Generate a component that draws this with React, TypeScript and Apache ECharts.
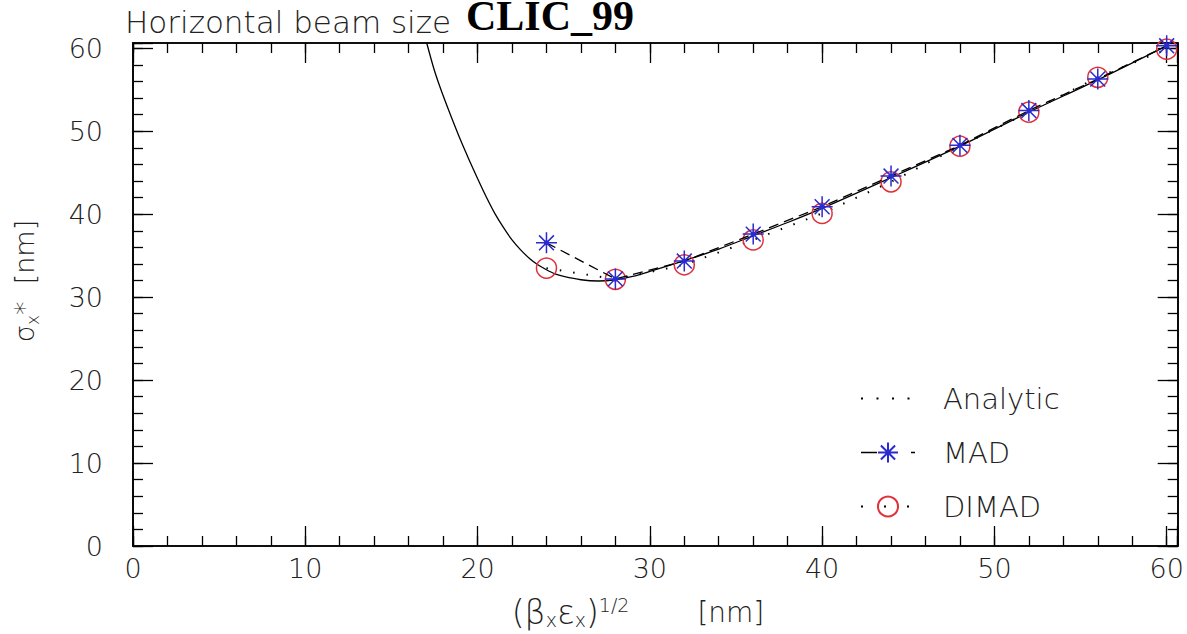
import React, { useEffect, useRef } from "react";
import * as echarts from "echarts";

// ---- data ----
const analyticX = [17.05, 17.5, 18.0, 18.5, 19.0, 19.5, 20.0, 20.5, 21.0, 21.5, 22.0, 22.5, 23.0, 23.5, 24.0, 24.5, 25.0, 26.0, 27.0, 28.0, 29.0, 30.0, 32.0, 34.0, 36.0, 38.0, 40.0, 44.0, 48.0, 52.0, 56.0, 60.0];
const analyticY = [60.64, 57.3, 54.3, 51.6, 49.0, 46.6, 44.3, 42.1, 40.1, 38.4, 36.9, 35.7, 34.7, 33.9, 33.3, 32.8, 32.5, 32.1, 31.95, 32.1, 32.5, 33.1, 34.4, 35.8, 37.4, 39.0, 40.7, 44.4, 48.2, 52.3, 56.2, 60.3];
const madX = [24, 28, 32, 36, 40, 44, 48, 52, 56, 60];
const madY = [36.55, 32.2, 34.35, 37.6, 40.9, 44.6, 48.3, 52.5, 56.3, 60.3];
const dimadX = [24, 28, 32, 36, 40, 44, 48, 52, 56, 60];
const dimadY = [33.5, 32.15, 33.9, 36.9, 40.1, 43.9, 48.2, 52.3, 56.5, 59.9];
const xTickLabels = [0, 10, 20, 30, 40, 50, 60];
const yTickLabels = [0, 10, 20, 30, 40, 50, 60];
const seriesNames = ["Analytic", "MAD", "DIMAD"];

const AXIS_MAX = 60.64;
const FONT = "DejaVu Sans";
const STAR =
  "path://M0,-10L0,10M-10,0L10,0M-7.07,-7.07L7.07,7.07M-7.07,7.07L7.07,-7.07M-1.8,0A1.8,1.8,0,1,0,1.8,0A1.8,1.8,0,1,0,-1.8,0Z";

function pairs(xs: number[], ys: number[]) {
  return xs.map((x, i) => [x, ys[i]]);
}

function mkAxis(
  kind: "x" | "y",
  position: string,
  interval: number,
  len: number,
  labels: boolean,
  ticks: number[]
) {
  return {
    type: "value",
    position,
    min: 0,
    max: AXIS_MAX,
    interval,
    axisLine: { show: true, onZero: false, lineStyle: { color: "#000", width: 1.6 } },
    axisTick: { show: true, inside: true, length: len, lineStyle: { color: "#000", width: 1.3 } },
    axisLabel: labels
      ? {
          show: true,
          margin: kind === "x" ? 9 : 30,
          color: "#222",
          fontFamily: FONT,
          fontWeight: 200,
          fontSize: 27,
          formatter: (v: number) => (ticks.includes(v) ? String(v) : ""),
        }
      : { show: false },
    splitLine: { show: false },
  };
}

export default function App() {
  const ref = useRef<HTMLDivElement>(null);
  useEffect(() => {
    if (!ref.current) return;
    const chart = echarts.init(ref.current, null, { renderer: "svg" });
    const txt = { fontFamily: FONT, fontWeight: 200, fill: "#222" };
    const option: any = {
      animation: false,
      backgroundColor: "#fff",
      grid: { left: 133, right: 9.3, top: 43, bottom: 88, containLabel: false },
      xAxis: [
        mkAxis("x", "bottom", 10, 20, true, xTickLabels),
        mkAxis("x", "bottom", 2, 10, false, xTickLabels),
        mkAxis("x", "top", 10, 20, false, xTickLabels),
        mkAxis("x", "top", 2, 10, false, xTickLabels),
      ],
      yAxis: [
        mkAxis("y", "left", 10, 20, true, yTickLabels),
        mkAxis("y", "left", 2, 10, false, yTickLabels),
        mkAxis("y", "right", 10, 20, false, yTickLabels),
        mkAxis("y", "right", 2, 10, false, yTickLabels),
      ],
      legend: {
        orient: "vertical",
        left: 860,
        top: 384,
        padding: 0,
        itemWidth: 54,
        itemHeight: 25,
        itemGap: 25,
        selectedMode: false,
        textStyle: {
          fontFamily: FONT,
          fontWeight: 200,
          fontSize: 29,
          color: "#222",
          lineHeight: 25,
          padding: [0, 0, 0, 23],
        },
        data: [
          {
            name: seriesNames[0],
            lineStyle: { type: [2, 13.5], width: 2, color: "#000" },
            itemStyle: { opacity: 0 },
          },
          {
            name: seriesNames[1],
            lineStyle: { type: [16, 34, 4, 10], width: 1.3, color: "#000" },
          },
          {
            name: seriesNames[2],
            lineStyle: { type: [2, 21], width: 2, color: "#000" },
          },
        ],
      },
      series: [
        {
          name: seriesNames[0],
          type: "line",
          data: pairs(analyticX, analyticY),
          smooth: 0.3,
          symbol: "circle",
          showSymbol: false,
          symbolSize: 0,
          lineStyle: { color: "#000", width: 1.3, type: "solid" },
          itemStyle: { color: "#000" },
          z: 2,
        },
        {
          name: seriesNames[1],
          type: "line",
          data: pairs(madX, madY),
          symbol: STAR,
          symbolSize: 21,
          showSymbol: true,
          lineStyle: { color: "#000", width: 1.3, type: [10, 6] },
          itemStyle: { color: "#2020c0", borderColor: "#2a2ad0", borderWidth: 1.5 },
          z: 4,
        },
        {
          name: seriesNames[2],
          type: "line",
          data: pairs(dimadX, dimadY),
          symbol: "circle",
          symbolSize: 20,
          showSymbol: true,
          lineStyle: { color: "#000", width: 2, type: [1.5, 12] },
          itemStyle: { color: "transparent", borderColor: "#e0303a", borderWidth: 1.5 },
          z: 3,
        },
      ],
      graphic: [
        {
          type: "text",
          x: 125,
          y: 21.5,
          style: {
            ...txt,
            text: "Horizontal beam size",
            fontSize: 31,
            verticalAlign: "middle",
            align: "left",
          },
        },
        {
          type: "text",
          x: 466,
          y: 16,
          style: {
            text: "CLIC_99",
            fontFamily: "Liberation Serif",
            fontWeight: "bold",
            fontSize: 42,
            fill: "#000",
            verticalAlign: "middle",
            align: "left",
          },
        },
        {
          type: "text",
          x: 24,
          y: 281,
          rotation: Math.PI / 2,
          style: {
            ...txt,
            text: "σ{sub|x}*  [nm]",
            fontSize: 27,
            lineHeight: 34,
            align: "center",
            verticalAlign: "middle",
            rich: {
              sub: { ...txt, fontSize: 17, lineHeight: 17, verticalAlign: "bottom" },
            },
          },
        },
        {
          type: "text",
          x: 638,
          y: 612,
          style: {
            ...txt,
            text: "{g|(β}{sub|x}{g|ε}{sub|x}{g|)}{sup|1/2}{n|[nm]}",
            fontSize: 27,
            lineHeight: 42,
            align: "center",
            verticalAlign: "middle",
            rich: {
              g: { ...txt, fontSize: 33, lineHeight: 34 },
              sub: { ...txt, fontSize: 19, lineHeight: 19, verticalAlign: "bottom" },
              sup: { ...txt, fontSize: 19, lineHeight: 19, verticalAlign: "top" },
              n: { ...txt, fontSize: 28, lineHeight: 34, padding: [0, 0, 0, 68] },
            },
          },
        },
      ],
    };
    chart.setOption(option);
    return () => chart.dispose();
  }, []);
  return (
    <div
      ref={ref}
      style={{ position: "absolute", left: 0, top: 0, width: 1187, height: 634, background: "#fff" }}
    />
  );
}
